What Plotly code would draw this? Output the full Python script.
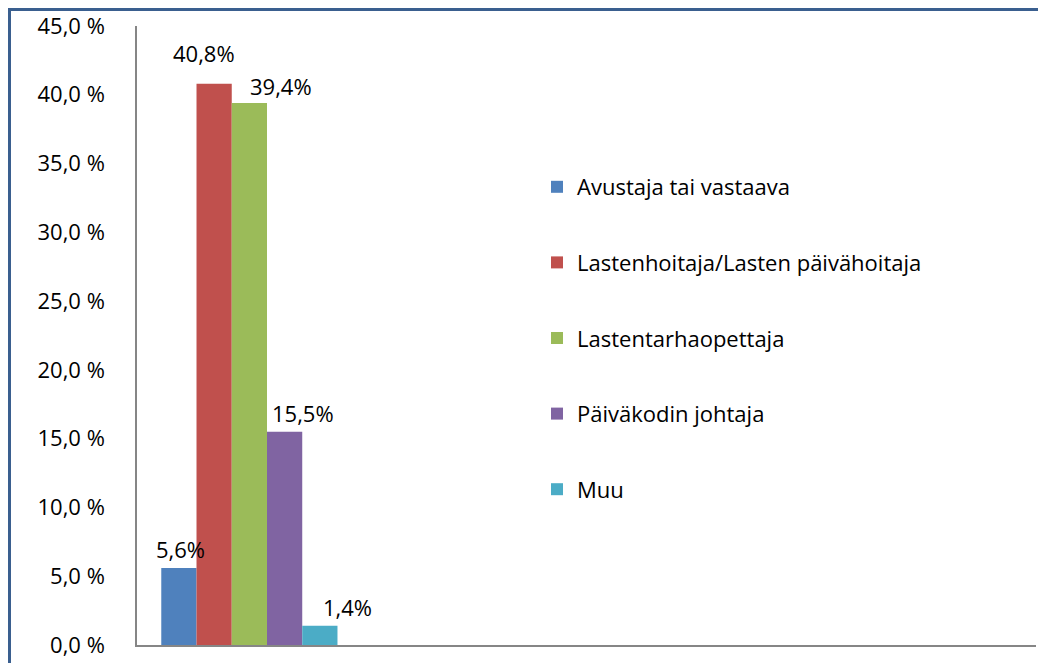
import plotly.graph_objects as go

series = ["Avustaja tai vastaava", "Lastenhoitaja/Lasten päivähoitaja",
          "Lastentarhaopettaja", "Päiväkodin johtaja", "Muu"]
values = [5.6, 40.8, 39.4, 15.5, 1.4]
value_labels = ["5,6%", "40,8%", "39,4%", "15,5%", "1,4%"]
colors = ["#4F81BD", "#C0504D", "#9BBB59", "#8064A2", "#4BACC6"]
tick_vals = [0, 5, 10, 15, 20, 25, 30, 35, 40, 45]
tick_text = ["0,0 %", "5,0 %", "10,0 %", "15,0 %", "20,0 %", "25,0 %",
             "30,0 %", "35,0 %", "40,0 %", "45,0 %"]
label_xshift = [2, -10, 32, 18, 28]
label_yshift = [2, 14, 0, 2, 2]

FONT = "Open Sans"
FS = 22
bargap = 0.216

W, H = 1038, 663
L, R, T, B = 137, 2, 26, 18
pw = W - L - R
ph = H - T - B

fig = go.Figure()
for i, (name, v, c) in enumerate(zip(series, values, colors)):
    fig.add_trace(go.Bar(x=[0], y=[v], name=name, marker=dict(color=c, line=dict(width=0)),
                         legendgroup=name, hoverinfo="skip"))

n = len(series)
w = (1 - bargap) / n
for i, (v, t) in enumerate(zip(values, value_labels)):
    fig.add_annotation(x=(i - (n - 1) / 2) * w, y=v, text=t, showarrow=False,
                       xref="x", yref="y", yanchor="bottom", yshift=label_yshift[i],
                       xshift=label_xshift[i], font=dict(family=FONT, size=FS, color="#000"))

fig.update_layout(
    width=W, height=H,
    margin=dict(l=L, r=R, t=T, b=B, autoexpand=False),
    paper_bgcolor="white", plot_bgcolor="white",
    barmode="group", bargap=bargap, bargroupgap=0,
    font=dict(family=FONT, size=FS, color="#000"),
    showlegend=True,
    legend=dict(x=(537 - 137) / pw, y=(645 - 166) / ph, xanchor="left", yanchor="top",
                traceorder="grouped", tracegroupgap=44,
                font=dict(family=FONT, size=FS), bgcolor="rgba(0,0,0,0)",
                itemwidth=30),
    xaxis=dict(range=[-0.5, 3.5], showticklabels=False, showgrid=False, zeroline=False,
               showline=True, linecolor="#868686", linewidth=1.5, ticks=""),
    yaxis=dict(range=[0, 45], tickvals=tick_vals, ticktext=tick_text, showgrid=False,
               zeroline=False, showline=True, linecolor="#868686", linewidth=1.5,
               ticks="", ticklabelstandoff=26, ticklabeloverflow="allow",
               tickfont=dict(family=FONT, size=FS)),
    shapes=[
        dict(type="line", xref="paper", yref="paper",
             x0=(9.5 - L) / pw, x1=(W - L) / pw, y0=(H - 9.5 - B) / ph, y1=(H - 9.5 - B) / ph,
             line=dict(color="#3A5F8F", width=3), layer="above"),
        dict(type="line", xref="paper", yref="paper",
             x0=(9.5 - L) / pw, x1=(9.5 - L) / pw, y0=-B / ph, y1=(H - 8 - B) / ph,
             line=dict(color="#3A5F8F", width=3), layer="above"),
    ],
)

fig.write_html(
    "out.html",
    config={"displayModeBar": False},
    post_script="document.body.style.margin='0';document.body.style.overflow='hidden';",
)
